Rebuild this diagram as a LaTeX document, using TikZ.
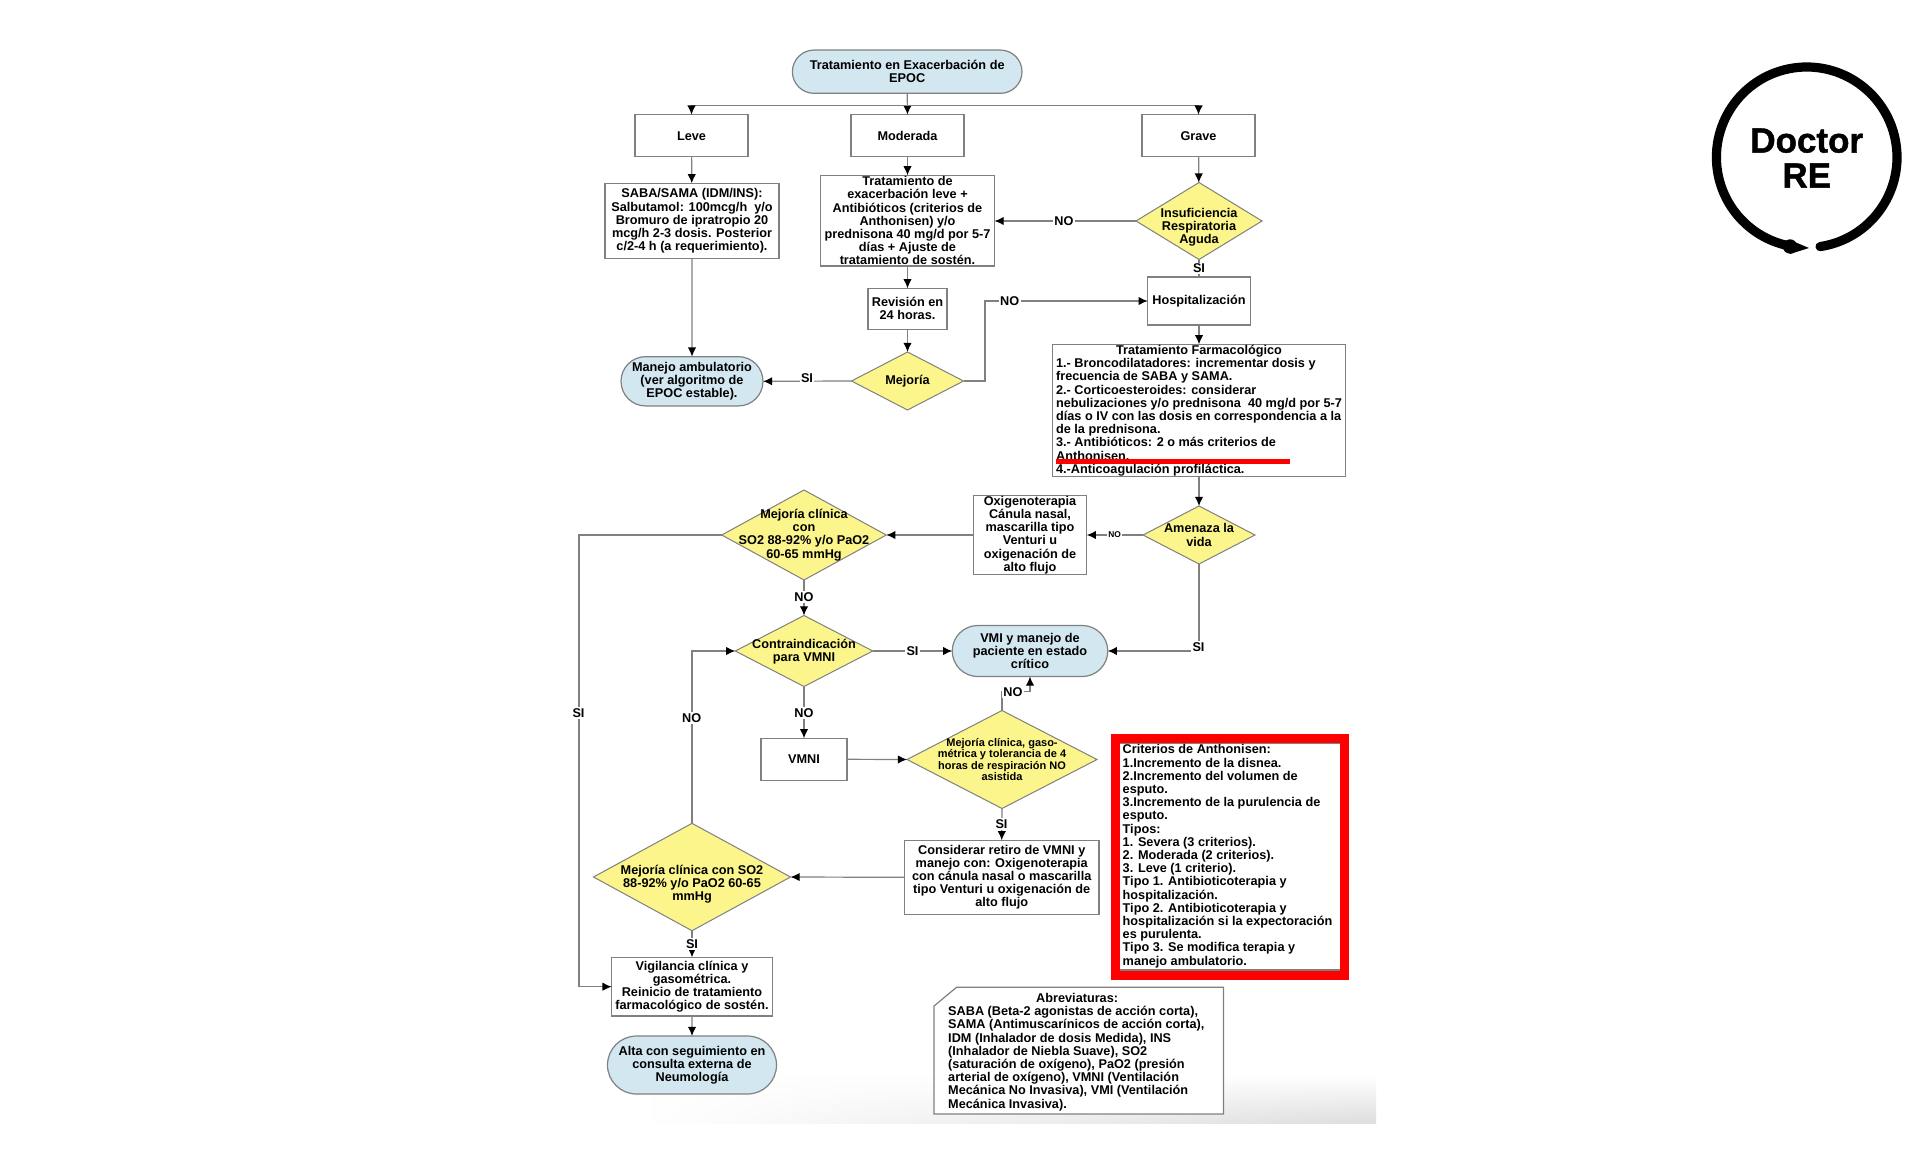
\documentclass[tikz,border=0pt]{standalone}
\usepackage{fontspec}
\setmainfont{Liberation Sans}
\newfontfamily\logofont{Liberation Sans}[BoldFeatures={FakeBold=1.3}]
\usetikzlibrary{shapes.geometric,shapes.misc,arrows.meta,fadings}
\definecolor{ln}{gray}{0.5}
\definecolor{bd}{gray}{0.5}
\definecolor{ylw}{HTML}{FBF58C}
\definecolor{blu}{HTML}{D2E7F0}
\tikzset{
  wh/.style 2 args={minimum width=#1*0.5pt,minimum height=#2*0.5pt},
  base/.style={inner sep=0pt,outer sep=0pt,align=center,font=\fontsize{6.35}{6.6}\selectfont\bfseries},
  box/.style={base,draw=bd,line width=.6pt,fill=white},
  term/.style={base,rounded rectangle,draw=bd,line width=.6pt,fill=blu},
  dia/.style={diamond,aspect=1.5,inner sep=0pt,outer sep=0pt,draw=bd,line width=.5pt,fill=ylw},
  dtext/.style={base},
  conn/.style={draw=ln,line width=.6pt},
  arr/.style={conn,-{Latex[length=4.6pt,width=4.2pt,color=black]}},
  lab/.style={base,fill=white,inner sep=.7pt},
  smalllab/.style={base,fill=white,inner sep=.7pt,font=\fontsize{4.2}{5}\selectfont\bfseries},
}
\begin{document}
\begin{tikzpicture}[x=0.5pt,y=-0.5pt]
\useasboundingbox (0,0) rectangle (1920,1166);
\fill[white] (0,0) rectangle (1920,1166);
% bottom page shading
\shade[top color=white,bottom color=black!13,path fading=west] (650,1075) rectangle (1376,1123);

% terminals and boxes
\node[term,wh={229.6}{43.3}] (title) at (907.2,71.7) {Tratamiento en Exacerbación de\\EPOC};
\node[box,wh={113}{42}] (leve) at (691.5,135.7) {Leve};
\node[box,wh={113}{42}] (mod) at (907.5,135.7) {Moderada};
\node[box,wh={113}{42}] (grave) at (1198.5,135.7) {Grave};
\node[box,wh={174}{75.4}] (saba) at (692,221) {SABA/SAMA (IDM/INS):\\Salbutamol: 100mcg/h\ \ y/o\\Bromuro de ipratropio 20\\mcg/h 2-3 dosis. Posterior\\c/2-4 h (a requerimiento).};
\node[box,wh={174}{90.7}] (trat) at (907.5,220.7) {Tratamiento de\\exacerbación leve +\\Antibióticos (criterios de\\Anthonisen) y/o\\prednisona 40 mg/d por 5-7\\días + Ajuste de\\tratamiento de sostén.};
\node[box,wh={79}{41}] (rev) at (907.5,308.8) {Revisión en\\24 horas.};
\node[term,wh={142}{49.3}] (manejo) at (692,381.3) {Manejo ambulatorio\\(ver algoritmo de\\EPOC estable).};
\node[box,wh={102.5}{48}] (hosp) at (1199,301) {Hospitalización};
\node[box,wh={293.5}{132.4},align=left] (farm) at (1199,410.5) {\hspace*{30pt}Tratamiento Farmacológico\\1.- Broncodilatadores: incrementar dosis y\\frecuencia de SABA y SAMA.\\2.- Corticoesteroides: considerar\\nebulizaciones y/o prednisona\ \ 40 mg/d por 5-7\\días o IV con las dosis en correspondencia a la\\de la prednisona.\\3.- Antibióticos: 2 o más criterios de\\Anthonisen.\\4.-Anticoagulación profiláctica.};
\node[box,wh={113.5}{78.6}] (oxi) at (1030,535) {Oxigenoterapia\\Cánula nasal,\\mascarilla tipo\\Venturi u\\oxigenación de\\alto flujo};
\node[term,wh={155.5}{51}] (vmi) at (1030,651) {VMI y manejo de\\paciente en estado\\crítico};
\node[box,wh={86}{42}] (vmni) at (804,759.3) {VMNI};
\node[box,wh={194.6}{74}] (cons) at (1001.7,877.3) {Considerar retiro de VMNI y\\manejo con: Oxigenoterapia\\con cánula nasal o mascarilla\\tipo Venturi u oxigenación de\\alto flujo};
\node[box,wh={160.7}{58.7}] (vig) at (692,986.7) {Vigilancia clínica y\\gasométrica.\\Reinicio de tratamiento\\farmacológico de sostén.};
\node[term,wh={169}{58}] (alta) at (692,1065) {Alta con seguimiento en\\consulta externa de\\Neumología};

% decisions
\node[dia,wh={112}{58}] (mejoria) at (907.5,381) {};
\node[dia,wh={126}{77}] (insuf) at (1199,221) {};
\node[dia,wh={112}{58}] (amen) at (1199,535) {};
\node[dia,wh={164.5}{90}] (mej2) at (804,535) {};
\node[dia,wh={137.5}{71}] (contra) at (804,651) {};
\node[dia,wh={190}{98}] (gaso) at (1002,759.5) {};
\node[dia,wh={197}{107.4}] (mejso) at (692,877) {};

% connectors
\coordinate (sp) at (907.2,105.3);
\coordinate (k1) at (985,301);
\coordinate (k2) at (579,535);
\draw[arr] (title.south) -- (mod.north);
\draw[arr] (sp) -| (leve.north);
\draw[arr] (sp) -| (grave.north);
\draw[arr] (leve) -- (saba);
\draw[arr] (saba) -- (manejo);
\draw[arr] (mod) -- (trat);
\draw[arr] (trat) -- (rev);
\draw[arr] (rev) -- (mejoria);
\draw[arr] (mejoria.west) -- (manejo.east);
\draw[arr] (mejoria.east) -| (k1) -- (hosp.west);
\draw[arr] (grave) -- (insuf);
\draw[arr] (insuf.west) -- (insuf.west -| trat.east);
\draw[conn] (insuf) -- (hosp);
\draw[arr] (hosp) -- (farm);
\draw[arr] (farm) -- (amen);
\draw[arr] (amen.west) -- (oxi.east);
\draw[arr] (oxi.west) -- (mej2.east);
\draw[arr] (mej2.south) -- (contra.north);
\draw[arr] (contra.east) -- (vmi.west);
\draw[arr] (contra.south) -- (vmni.north);
\draw[arr] (vmni.east) -- (gaso.west);
\draw[arr] (gaso.north) -- ++(0,-19) -| (vmi.south);
\draw[arr] (gaso.south) -- (cons.north);
\draw[arr] (cons.west) -- (mejso.east);
\draw[arr] (mejso.north) |- (contra.west);
\draw[arr] (mejso.south) -- (vig.north);
\draw[arr] (vig) -- (alta);
\draw[arr] (mej2.west) -- (k2) |- (vig.west);
\draw[arr] (amen.south) |- (vmi.east);

% decision texts
\node[dtext] (mejoria-t) at (mejoria) {Mejoría};
\node[dtext] (insuf-t) at (1199,227) {Insuficiencia\\Respiratoria\\Aguda};
\node[dtext] (amen-t) at (amen) {Amenaza la\\vida};
\node[dtext] (mej2-t) at (mej2) {Mejoría clínica\\con\\SO2 88-92\% y/o PaO2\\60-65 mmHg};
\node[dtext] (contra-t) at (804,652) {Contraindicación\\para VMNI};
\node[dtext,font=\fontsize{5.5}{5.75}\selectfont\bfseries] (gaso-t) at (gaso) {Mejoría clínica, gaso-\\métrica y tolerancia de 4\\horas de respiración NO\\asistida};
\node[dtext] (mejso-t) at (692,884) {Mejoría clínica con SO2\\88-92\% y/o PaO2 60-65\\mmHg};

% connector labels
\node[lab] (l1) at (807,378) {SI};
\node[lab] (l2) at (1009.6,301) {NO};
\node[lab] (l3) at (1064,221) {NO};
\node[lab] (l4) at (1199,268.5) {SI};
\node[smalllab] (l5) at (1114.6,535) {NO};
\node[lab] (l6) at (804,597.3) {NO};
\node[lab] (l7) at (912.5,651) {SI};
\node[lab] (l8) at (1198.5,646.7) {SI};
\node[lab] (l9) at (804,712.7) {NO};
\node[lab] (l10) at (691.6,718.3) {NO};
\node[lab] (l11) at (1013,691.7) {NO};
\node[lab] (l12) at (1001.5,824.3) {SI};
\node[lab] (l13) at (692,944) {SI};
\node[lab] (l14) at (578.5,712.7) {SI};

% red line over the antibiotic item
\fill[red] (1055.6,459.3) rectangle (1290,464);

% Anthonisen box
\node[box,wh={221}{226.7}] (critin) at (1229.8,856.7) {};
\node[base,draw=red,line width=4.5pt,wh={229.4}{236.7}] (crit) at (1229.8,856.85) {};
\node[base,align=left] (crit-t) at (1227.5,856.3) {Criterios de Anthonisen:\\1.Incremento de la disnea.\\2.Incremento del volumen de\\esputo.\\3.Incremento de la purulencia de\\esputo.\\Tipos:\\1. Severa (3 criterios).\\2. Moderada (2 criterios).\\3. Leve (1 criterio).\\Tipo 1. Antibioticoterapia y\\hospitalización.\\Tipo 2. Antibioticoterapia y\\hospitalización si la expectoración\\es purulenta.\\Tipo 3. Se modifica terapia y\\manejo ambulatorio.};

% abbreviations
\draw[draw=bd,line width=.6pt,fill=white] (956.5,987.3) -- (1223.4,987.3) -- (1223.4,1114) -- (934,1114) -- (934,1006) -- cycle;
\node[base,align=left] (abr) at (1076.3,1052) {\hspace*{44pt}Abreviaturas:\\SABA (Beta-2 agonistas de acción corta),\\SAMA (Antimuscarínicos de acción corta),\\IDM (Inhalador de dosis Medida), INS\\(Inhalador de Niebla Suave), SO2\\(saturación de oxígeno), PaO2 (presión\\arterial de oxígeno), VMNI (Ventilación\\Mecánica No Invasiva), VMI (Ventilación\\Mecánica Invasiva).};

% logo
\draw[black,line width=4.6pt,line cap=round] (1806.7,157.3) ++(81.5:90.3) arc[start angle=81.5,end angle=-259.5,radius=90.3];
\fill[black] (1790,246.5) circle (3.6pt);
\fill[black] (1790,240) -- (1809,248) -- (1790,254) -- cycle;
\node[inner sep=0pt,align=center,font=\fontsize{17.5}{17.5}\selectfont\logofont\bfseries] (logo) at (1806.7,158) {Doctor\\RE};
\end{tikzpicture}
\end{document}
